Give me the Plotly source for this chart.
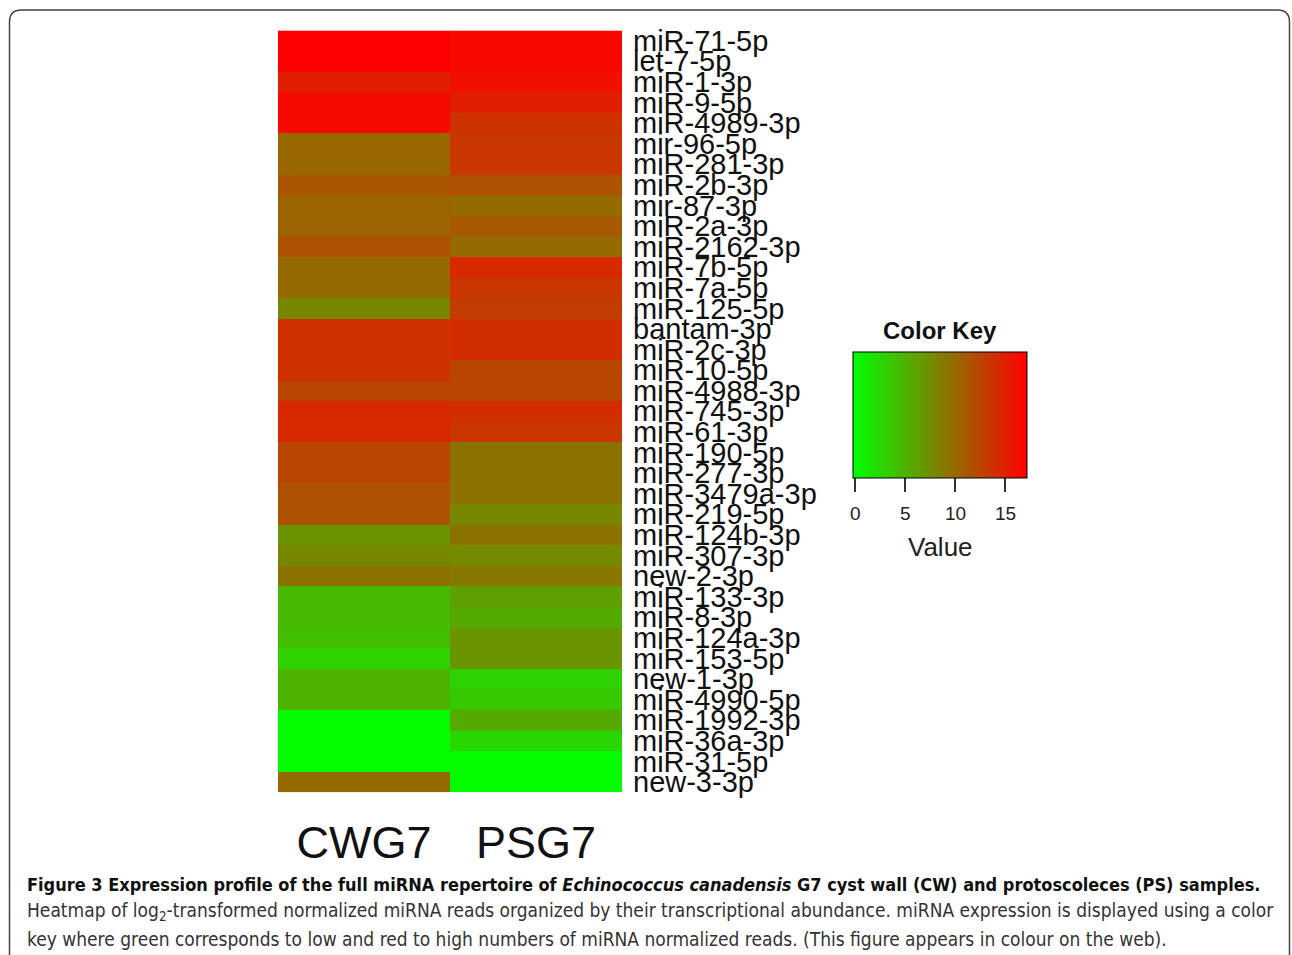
import plotly.graph_objects as go

W, H = 1292, 955

mirnas = [
    "miR-71-5p", "let-7-5p", "miR-1-3p", "miR-9-5p", "miR-4989-3p", "mir-96-5p",
    "miR-281-3p", "miR-2b-3p", "mir-87-3p", "miR-2a-3p", "miR-2162-3p", "miR-7b-5p",
    "miR-7a-5p", "miR-125-5p", "bantam-3p", "miR-2c-3p", "miR-10-5p", "miR-4988-3p",
    "miR-745-3p", "miR-61-3p", "miR-190-5p", "miR-277-3p", "miR-3479a-3p", "miR-219-5p",
    "miR-124b-3p", "miR-307-3p", "new-2-3p", "miR-133-3p", "miR-8-3p", "miR-124a-3p",
    "miR-153-5p", "new-1-3p", "miR-4990-5p", "miR-1992-3p", "miR-36a-3p", "miR-31-5p",
    "new-3-3p",
]
samples = ["CWG7", "PSG7"]

cwg7 = [17.2, 17.2, 15.15, 16.5, 16.5, 10.2, 10.2, 11.4, 10.4, 10.4, 11.7, 10.0,
        10.0, 8.0, 13.8, 13.8, 13.8, 12.4, 14.5, 14.5, 12.4, 12.4, 11.7, 11.7,
        7.0, 8.0, 9.35, 4.6, 4.6, 4.2, 2.9, 4.9, 4.9, 0.0, 0.0, 0.0, 10.0]
psg7 = [16.7, 16.7, 16.2, 15.15, 13.8, 13.45, 13.45, 11.7, 10.0, 11.1, 10.0, 14.5,
        13.45, 13.1, 14.1, 14.1, 12.4, 12.4, 14.1, 13.45, 9.35, 9.35, 9.35, 8.0,
        9.35, 7.8, 9.0, 6.3, 5.6, 7.0, 7.0, 2.9, 3.55, 5.6, 2.5, 0.0, 0.0]
key_ticks = [0, 5, 10, 15]
key_min, key_max = -0.2, 17.2

z = [[a, b] for a, b in zip(cwg7, psg7)]

# vertical pixel -> paper fraction (compensates slight vertical squeeze of the capture)
SQ, OFF = 0.9887, 5.6
def py(v):
    return 1 - ((v - OFF) / SQ) / H
def px(v):
    return v / W

KEY_L, KEY_R = 853, 1027
KEY_T, KEY_B = 353, 478

fig = go.Figure(go.Heatmap(
    z=z, x=samples, y=mirnas,
    zmin=key_min, zmax=key_max,
    colorscale=[[0, "rgb(0,255,0)"], [1, "rgb(255,0,0)"]],
    xgap=0, ygap=0,
    colorbar=dict(
        orientation="h",
        x=px((KEY_L + KEY_R) / 2), xanchor="center",
        y=py(KEY_T), yanchor="top",
        lenmode="pixels", len=KEY_R - KEY_L,
        thickness=(KEY_B - KEY_T) / SQ,
        outlinecolor="black", outlinewidth=1,
        ticks="outside", ticklen=14, tickwidth=1.5, tickcolor="#333",
        tickvals=key_ticks, showticklabels=False,
        xpad=0, ypad=0,
    ),
))

fig.update_layout(
    width=W, height=H,
    margin=dict(l=0, r=0, t=0, b=0),
    paper_bgcolor="white", plot_bgcolor="white",
    xaxis=dict(domain=[px(278), px(622)], showgrid=False, zeroline=False,
               ticks="", showline=False,
               tickfont=dict(family="Liberation Sans, Arial", size=45, color="#111"),
               ticklabelstandoff=20),
    yaxis=dict(domain=[py(793), py(31)], side="right", autorange="reversed",
               tickmode="array", tickvals=mirnas, ticktext=mirnas,
               showgrid=False, zeroline=False, ticks="", showline=False,
               tickfont=dict(family="Liberation Sans, Arial", size=29, color="#111"),
               ticklabelstandoff=10),
    showlegend=False,
)

# colour-key tick labels, placed from the key's value scale
for v in key_ticks:
    xv = KEY_L + (v - key_min) / (key_max - key_min) * (KEY_R - KEY_L)
    fig.add_annotation(text=str(v), x=px(xv), y=py(514),
                       xref="paper", yref="paper", xanchor="center", yanchor="middle",
                       showarrow=False,
                       font=dict(family="Liberation Sans, Arial", size=19, color="#222"))

fig.add_annotation(text="<b>Color Key</b>", x=px(940), y=py(331),
                   xref="paper", yref="paper", xanchor="center", yanchor="middle",
                   showarrow=False,
                   font=dict(family="Liberation Sans, Arial", size=24, color="#111"))
fig.add_annotation(text="Value", x=px(940), y=py(548),
                   xref="paper", yref="paper", xanchor="center", yanchor="middle",
                   showarrow=False,
                   font=dict(family="Liberation Sans, Arial", size=26, color="#222"))

cap_font = "DejaVu Sans Condensed, Liberation Sans Narrow, sans-serif"
captions = [
    ("<b>Figure 3 Expression profile of the full miRNA repertoire of <i>Echinococcus canadensis</i> "
     "G7 cyst wall (CW) and protoscoleces (PS) samples.</b>", 885, "#111", 18),
    ("Heatmap of log<sub>2</sub>-transformed normalized miRNA reads organized by their transcriptional "
     "abundance. miRNA expression is displayed using a color", 912, "#333", 19),
    ("key where green corresponds to low and red to high numbers of miRNA normalized reads. "
     "(This figure appears in colour on the web).", 940, "#333", 19),
]
for txt, yy, col, sz in captions:
    fig.add_annotation(text=txt, x=px(25), y=py(yy), xref="paper", yref="paper",
                       xanchor="left", yanchor="middle", showarrow=False,
                       font=dict(family=cap_font, size=sz, color=col))

# rounded frame around the figure
L, T, R, B, r = 9.5, 10.5, 1289.5, 990, 12
path = (f"M {px(L)},{py(B)} L {px(L)},{py(T + r)} Q {px(L)},{py(T)} {px(L + r)},{py(T)} "
        f"L {px(R - r)},{py(T)} Q {px(R)},{py(T)} {px(R)},{py(T + r)} L {px(R)},{py(B)}")
fig.add_shape(type="path", path=path, xref="paper", yref="paper",
              line=dict(color="#444", width=1.5))

fig.write_html(
    "out.html",
    config={"displayModeBar": False},
    post_script=(
        "document.documentElement.style.margin='0';"
        "document.documentElement.style.overflow='hidden';"
        "document.body.style.margin='0';document.body.style.padding='0';"
        "document.body.style.overflow='hidden';"
    ),
)
